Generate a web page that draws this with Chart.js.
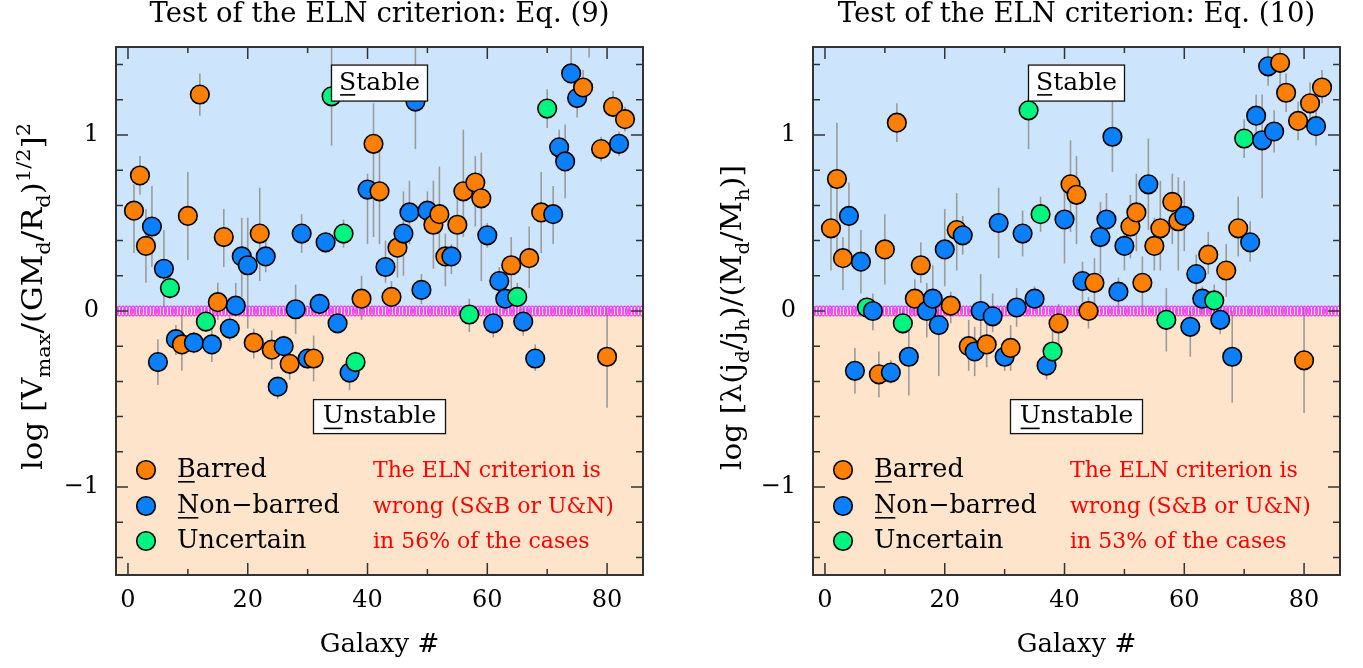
<!DOCTYPE html>
<html>
<head>
<meta charset="utf-8">
<title>Test of the ELN criterion</title>
<script src="https://cdn.jsdelivr.net/npm/chart.js@4.4.0/dist/chart.umd.min.js"></script>
<style>
  html,body{margin:0;padding:0;background:#fff;}
  #wrap{position:relative;width:1363px;height:668px;overflow:hidden;}
  canvas{position:absolute;top:0;}
  #eq9{left:0;}
  #eq10{left:697px;}
</style>
</head>
<body>
<div id="wrap">
  <canvas id="eq9" width="680" height="668"></canvas>
  <canvas id="eq10" width="666" height="668"></canvas>
</div>
<script>
// Galaxy numbers and morphology (B = barred, N = non-barred, U = uncertain)
const galaxyNumbers = [1,2,3,4,5,6,7,8,9,10,11,12,13,14,15,16,17,18,19,20,
  21,22,23,24,25,26,27,28,29,30,31,32,33,34,35,36,37,38,39,40,
  41,42,43,44,45,46,47,48,49,50,51,52,53,54,55,56,57,58,59,60,
  61,62,63,64,65,66,67,68,69,70,71,72,73,74,75,76,77,78,79,80,81,82,83];
const galaxyType = ['B','B','B','N','N','N','U','N','B','B',
  'N','B','U','N','B','B','N','N','N','N',
  'B','B','N','B','N','N','B','N','N','N',
  'B','N','N','U','N','U','N','U','B','N',
  'B','B','N','B','B','N','N','N','N','N',
  'B','B','B','N','B','B','U','B','B','N',
  'N','N','N','B','U','N','B','N','B','U',
  'N','N','N','N','N','B','B','N','B','B',
  'B','N','B'];

// Eq. (9): log [Vmax/(GMd/Rd)^1/2]^2 with error bar ends
const eq9Value = [0.57,0.77,0.37,0.48,-0.29,0.24,0.13,-0.16,-0.19,0.54,
  -0.18,1.23,-0.06,-0.19,0.05,0.42,-0.10,0.03,0.31,0.26,
  -0.18,0.44,0.31,-0.22,-0.43,-0.20,-0.30,0.01,0.44,-0.27,
  -0.27,0.04,0.39,1.22,-0.07,0.44,-0.35,-0.29,0.07,0.69,
  0.95,0.68,0.25,0.08,0.36,0.44,0.56,1.19,0.12,0.57,
  0.49,0.55,0.31,0.31,0.49,0.68,-0.02,0.73,0.64,0.43,
  -0.07,0.17,0.07,0.26,0.08,-0.06,0.30,-0.27,0.56,1.15,
  0.55,0.93,0.85,1.35,1.21,1.27,1.62,null,0.92,-0.26,
  1.16,0.95,1.09];
const eq9Low = [0.33,0.66,0.16,0.25,-0.42,0.02,0.07,-0.25,-0.34,0.29,
  -0.24,1.11,-0.12,-0.29,-0.05,0.25,-0.17,-0.03,0.08,-0.10,
  -0.27,0.17,0.22,-0.33,-0.50,-0.26,-0.39,-0.13,0.33,-0.33,
  -0.40,-0.02,0.33,0.94,-0.12,0.36,-0.45,-0.35,-0.05,0.38,
  0.42,0.38,0.16,0.02,0.19,0.20,0.38,0.92,0.04,0.48,
  0.24,0.33,0.14,0.21,0.33,0.42,-0.12,0.48,0.17,0.36,
  -0.15,0.10,0.00,0.10,0.02,-0.14,0.13,-0.34,0.33,1.04,
  0.38,0.83,0.64,1.29,1.10,1.20,1.44,null,0.85,-0.55,
  1.10,0.88,1.02];
const eq9High = [0.72,0.88,0.58,0.71,-0.16,0.46,0.20,-0.08,-0.02,0.79,
  -0.12,1.35,0.00,-0.10,0.16,0.58,-0.03,0.16,0.53,0.53,
  -0.10,0.70,0.40,-0.11,-0.38,-0.14,-0.24,0.15,0.55,-0.22,
  -0.14,0.10,0.45,1.55,-0.02,0.52,-0.28,-0.23,0.20,0.78,
  1.18,0.93,0.40,0.17,0.45,0.68,0.74,1.52,0.21,0.68,
  0.74,0.82,0.44,0.38,0.65,1.03,0.07,0.88,0.90,0.50,
  -0.02,0.25,0.20,0.42,0.16,0.02,0.48,-0.19,0.79,1.26,
  0.71,1.03,1.06,1.55,1.27,1.37,1.80,null,0.99,0.02,
  1.25,1.02,1.16];

// Eq. (10): log [lambda (jd/jh)/(Md/Mh)] with error bar ends
const eq10Value = [0.47,0.75,0.30,0.54,-0.34,0.28,0.02,0.00,-0.36,0.35,
  -0.35,1.07,-0.07,-0.26,0.07,0.26,0.00,0.07,-0.08,0.35,
  0.03,0.46,0.43,-0.20,-0.23,0.00,-0.19,-0.03,0.50,-0.26,
  -0.21,0.02,0.44,1.14,0.07,0.55,-0.31,-0.23,-0.07,0.52,
  0.72,0.66,0.17,0.00,0.16,0.42,0.52,0.99,0.11,0.37,
  0.48,0.56,0.16,0.72,0.37,0.47,-0.05,0.62,0.51,0.54,
  -0.09,0.21,0.07,0.32,0.06,-0.05,0.23,-0.26,0.47,0.98,
  0.39,1.11,0.97,1.39,1.02,1.41,1.24,null,1.08,-0.28,
  1.18,1.05,1.27];
const eq10Low = [0.23,0.31,0.12,0.29,-0.47,0.10,-0.04,-0.11,-0.49,0.15,
  -0.41,0.96,-0.13,-0.48,-0.03,0.16,-0.15,-0.05,-0.37,0.14,
  -0.07,0.23,0.32,-0.34,-0.37,-0.15,-0.32,-0.12,0.30,-0.34,
  -0.34,-0.09,0.31,0.92,0.00,0.45,-0.39,-0.33,-0.19,0.27,
  0.45,0.38,0.05,-0.10,0.00,0.21,0.40,0.79,0.02,0.23,
  0.30,0.34,0.02,0.46,0.23,0.23,-0.23,0.38,0.23,0.34,
  -0.26,0.05,-0.02,0.21,-0.05,-0.13,0.08,-0.52,0.31,0.87,
  0.28,0.95,0.64,1.28,0.90,1.28,1.13,null,0.97,-0.58,
  1.08,0.94,1.18];
const eq10High = [0.78,1.07,0.42,0.73,-0.21,0.46,0.08,0.10,-0.23,0.55,
  -0.28,1.18,0.00,-0.07,0.18,0.39,0.16,0.26,0.05,0.58,
  0.11,0.67,0.54,-0.05,-0.09,0.21,-0.02,0.10,0.70,-0.18,
  -0.08,0.13,0.57,1.22,0.14,0.65,-0.22,-0.03,0.04,0.72,
  0.97,0.88,0.28,0.08,0.30,0.62,0.67,1.19,0.19,0.51,
  0.66,0.78,0.31,0.98,0.53,0.74,0.13,0.78,0.76,0.74,
  0.00,0.32,0.14,0.45,0.15,0.02,0.38,0.00,0.65,1.09,
  0.51,1.23,1.23,1.52,1.14,1.55,1.35,null,1.19,0.02,
  1.30,1.17,1.37];

const xTickLabels = [0,20,40,60,80];
const yTickLabels = [-1,0,1];
const legendTypes = ['B','N','U'];
const legendLabels = ['Barred','Non\u2212barred','Uncertain'];
const legendUnderline = [true,true,false];
const wrongShare = {eq9:'56%', eq10:'53%'};

// styles
const TYPE_COLOR = {B:'#ff8000', N:'#0a80ff', U:'#00f580'};
const STABLE_BG = '#cce5fc';
const UNSTABLE_BG = '#fee4cb';
const FRAME = '#333';
const ERR_COLOR = '#9b9b9b';
const FONT = '"DejaVu Serif", "Liberation Serif", serif';
const X_MIN = -2, X_MAX = 86, Y_MIN = -1.5, Y_MAX = 1.5;
const RING_STEP = 0.57;

function ringImage(){
	const c = document.createElement('canvas'); c.width = 6; c.height = 12;
	const g = c.getContext('2d');
	g.strokeStyle = '#ff00ff'; g.lineWidth = 1;
	g.beginPath(); g.ellipse(3, 6, 2.2, 5, 0, 0, Math.PI*2); g.stroke();
	return c;
}

// decorative row of rings along the zero line
function zeroRing(){
	const pts = [];
	for(let v = X_MIN; v <= X_MAX + 1e-9; v += RING_STEP) pts.push({x:v, y:0});
	return pts;
}

function drawRich(ctx, runs, size, family){
	let u = 0;
	runs.forEach(r => {
		const s = (r.sub || r.sup) ? size*0.68 : size;
		ctx.font = s + 'px ' + family;
		const dy = r.sub ? size*0.3 : (r.sup ? -size*0.45 : 0);
		ctx.fillText(r.t, u, dy);
		u += ctx.measureText(r.t).width;
	});
}
function richWidth(ctx, runs, size, family){
	let w = 0;
	runs.forEach(r => {
		const s = (r.sub || r.sup) ? size*0.68 : size;
		ctx.font = s + 'px ' + family;
		w += ctx.measureText(r.t).width;
	});
	return w;
}

function underlinedText(ctx, text, x, y, underline, gap){
	ctx.fillText(text, x, y);
	if(!underline) return;
	const w = ctx.measureText(text[0]).width;
	const start = ctx.textAlign === 'center' ? x - ctx.measureText(text).width/2 : x;
	ctx.fillRect(start + 1, y + gap, w - 2, 1.6);
}

function labelBox(ctx, cx, cy, w, h, text){
	ctx.fillStyle = '#fff';
	ctx.fillRect(cx - w/2, cy - h/2, w, h);
	ctx.strokeStyle = '#111'; ctx.lineWidth = 1.3;
	ctx.strokeRect(cx - w/2, cy - h/2, w, h);
	ctx.fillStyle = '#000';
	ctx.font = '25px ' + FONT;
	ctx.textAlign = 'center'; ctx.textBaseline = 'middle';
	underlinedText(ctx, text, cx, cy, true, 11);
}

function panelPlugin(p){
	return {
		id: 'panel_' + p.key,
		beforeDraw(chart){
			const {ctx, chartArea: a, scales: {y}} = chart;
			const y0 = y.getPixelForValue(0);
			ctx.save();
			ctx.fillStyle = STABLE_BG; ctx.fillRect(a.left, a.top, a.right - a.left, y0 - a.top);
			ctx.fillStyle = UNSTABLE_BG; ctx.fillRect(a.left, y0, a.right - a.left, a.bottom - y0);
			ctx.restore();
		},
		beforeDatasetsDraw(chart){
			// error bars
			const {ctx, chartArea: a, scales: {x, y}} = chart;
			ctx.save();
			ctx.beginPath(); ctx.rect(a.left, a.top, a.right - a.left, a.bottom - a.top); ctx.clip();
			ctx.strokeStyle = ERR_COLOR; ctx.lineWidth = 1.6;
			galaxyNumbers.forEach((g, i) => {
				if(p.low[i] == null) return;
				const px = x.getPixelForValue(g);
				ctx.beginPath();
				ctx.moveTo(px, y.getPixelForValue(p.low[i]));
				ctx.lineTo(px, y.getPixelForValue(p.high[i]));
				ctx.stroke();
			});
			ctx.restore();
		},
		afterDatasetsDraw(chart){
			// frame and inward ticks on all four sides
			const {ctx, chartArea: a, scales: {x, y}} = chart;
			ctx.save();
			ctx.strokeStyle = FRAME; ctx.lineWidth = 1.5;
			ctx.beginPath();
			for(let v = 0; v <= 80; v += 10){
				const len = v % 20 === 0 ? 12 : 6;
				const px = x.getPixelForValue(v);
				ctx.moveTo(px, a.bottom); ctx.lineTo(px, a.bottom - len);
				ctx.moveTo(px, a.top); ctx.lineTo(px, a.top + len);
			}
			for(let k = -7; k <= 7; k++){
				const len = k % 5 === 0 ? 12 : 7;
				const py = y.getPixelForValue(k/5);
				ctx.moveTo(a.left, py); ctx.lineTo(a.left + len, py);
				ctx.moveTo(a.right, py); ctx.lineTo(a.right - len, py);
			}
			ctx.stroke();
			ctx.lineWidth = 2;
			ctx.strokeRect(a.left, a.top, a.right - a.left, a.bottom - a.top);
			ctx.restore();
		},
		afterDraw(chart){
			const {ctx, chartArea: a, scales: {x, y}} = chart;
			const cx = (a.left + a.right)/2;
			ctx.save();
			ctx.fillStyle = '#000';
			ctx.textAlign = 'center'; ctx.textBaseline = 'middle';
			ctx.font = '27.5px ' + FONT;
			ctx.fillText(p.title, cx, 15);
			ctx.font = '26px ' + FONT;
			ctx.fillText('Galaxy #', cx, 645);

			// y axis title with sub/superscripts
			ctx.textAlign = 'left'; ctx.textBaseline = 'alphabetic';
			const size = 27;
			const w = richWidth(ctx, p.yRuns, size, FONT);
			ctx.save();
			ctx.translate(p.yLabelX, 470);
			ctx.rotate(-Math.PI/2);
			ctx.scale(p.yLabelLen / w, 1);
			drawRich(ctx, p.yRuns, size, FONT);
			ctx.restore();

			// Stable / Unstable boxes
			labelBox(ctx, x.getPixelForValue(42), y.getPixelForValue(1.295), 96, 36, 'Stable');
			labelBox(ctx, x.getPixelForValue(42), y.getPixelForValue(-0.6), 132, 34, 'Unstable');

			// legend
			const rows = [470, 506, 541];
			legendTypes.forEach((t, i) => {
				ctx.beginPath();
				ctx.arc(a.left + 30, rows[i], 9.3, 0, Math.PI*2);
				ctx.fillStyle = TYPE_COLOR[t]; ctx.fill();
				ctx.lineWidth = 1.6; ctx.strokeStyle = '#000'; ctx.stroke();
				ctx.fillStyle = '#000';
				ctx.font = '25.5px ' + FONT;
				ctx.textAlign = 'left'; ctx.textBaseline = 'middle';
				underlinedText(ctx, legendLabels[i], a.left + 61, rows[i], legendUnderline[i], 11);
			});
			const red = ['The ELN criterion is', 'wrong (S&B or U&N)', 'in ' + p.share + ' of the cases'];
			ctx.fillStyle = '#ff0000';
			ctx.font = '22px ' + FONT;
			red.forEach((s, i) => ctx.fillText(s, a.left + 257, rows[i] + 1));
			ctx.restore();
		}
	};
}

function fmtTick(v){
	return v < 0 ? '\u2212' + Math.abs(v) : String(v);
}

function makePanel(canvasId, p){
	const pointData = galaxyNumbers.map((g, i) => ({x: g, y: p.values[i]}));
	new Chart(document.getElementById(canvasId), {
		type: 'scatter',
		data: {
			datasets: [
				{
					label: 'zero',
					data: zeroRing(),
					pointStyle: ringImage(),
					order: 2,
					clip: 0
				},
				{
					label: 'galaxies',
					data: pointData,
					pointRadius: 9.3,
					pointHoverRadius: 9.3,
					pointBorderWidth: 1.6,
					pointBorderColor: '#000',
					pointBackgroundColor: ctx => TYPE_COLOR[galaxyType[ctx.dataIndex]] || '#888',
					order: 1,
					clip: 0
				}
			]
		},
		options: {
			responsive: false,
			animation: false,
			events: [],
			layout: {padding: {top: 47, right: p.padRight, left: 0, bottom: 0}},
			plugins: {legend: {display: false}, tooltip: {enabled: false}},
			scales: {
				x: {
					type: 'linear', min: X_MIN, max: X_MAX,
					grid: {display: false, drawTicks: false},
					border: {display: false},
					afterBuildTicks: s => { s.ticks = xTickLabels.map(v => ({value: v})); },
					ticks: {
						autoSkip: false, maxRotation: 0, padding: 11,
						color: '#000', font: {family: FONT, size: 24},
						callback: v => fmtTick(v)
					},
					afterFit: s => { s.height = 93; }
				},
				y: {
					type: 'linear', min: Y_MIN, max: Y_MAX,
					grid: {display: false, drawTicks: false},
					border: {display: false},
					afterBuildTicks: s => { s.ticks = yTickLabels.map(v => ({value: v})); },
					ticks: {
						autoSkip: false, padding: 17,
						color: '#000', font: {family: FONT, size: 24},
						callback: v => fmtTick(v)
					},
					afterFit: s => { s.width = 116; }
				}
			}
		},
		plugins: [panelPlugin(p)]
	});
}

makePanel('eq9', {
	key: 'eq9',
	title: 'Test of the ELN criterion: Eq. (9)',
	values: eq9Value, low: eq9Low, high: eq9High,
	share: wrongShare.eq9,
	padRight: 37,
	yLabelX: 42, yLabelLen: 347,
	yRuns: [{t:'log [V'},{t:'max',sub:1},{t:'/(GM'},{t:'d',sub:1},{t:'/R'},{t:'d',sub:1},{t:')'},{t:'1/2',sup:1},{t:']'},{t:'2',sup:1}]
});
makePanel('eq10', {
	key: 'eq10',
	title: 'Test of the ELN criterion: Eq. (10)',
	values: eq10Value, low: eq10Low, high: eq10High,
	share: wrongShare.eq10,
	padRight: 23,
	yLabelX: 44, yLabelLen: 305,
	yRuns: [{t:'log [\u03bb(j'},{t:'d',sub:1},{t:'/j'},{t:'h',sub:1},{t:')/(M'},{t:'d',sub:1},{t:'/M'},{t:'h',sub:1},{t:')]'}]
});
</script>
</body>
</html>
